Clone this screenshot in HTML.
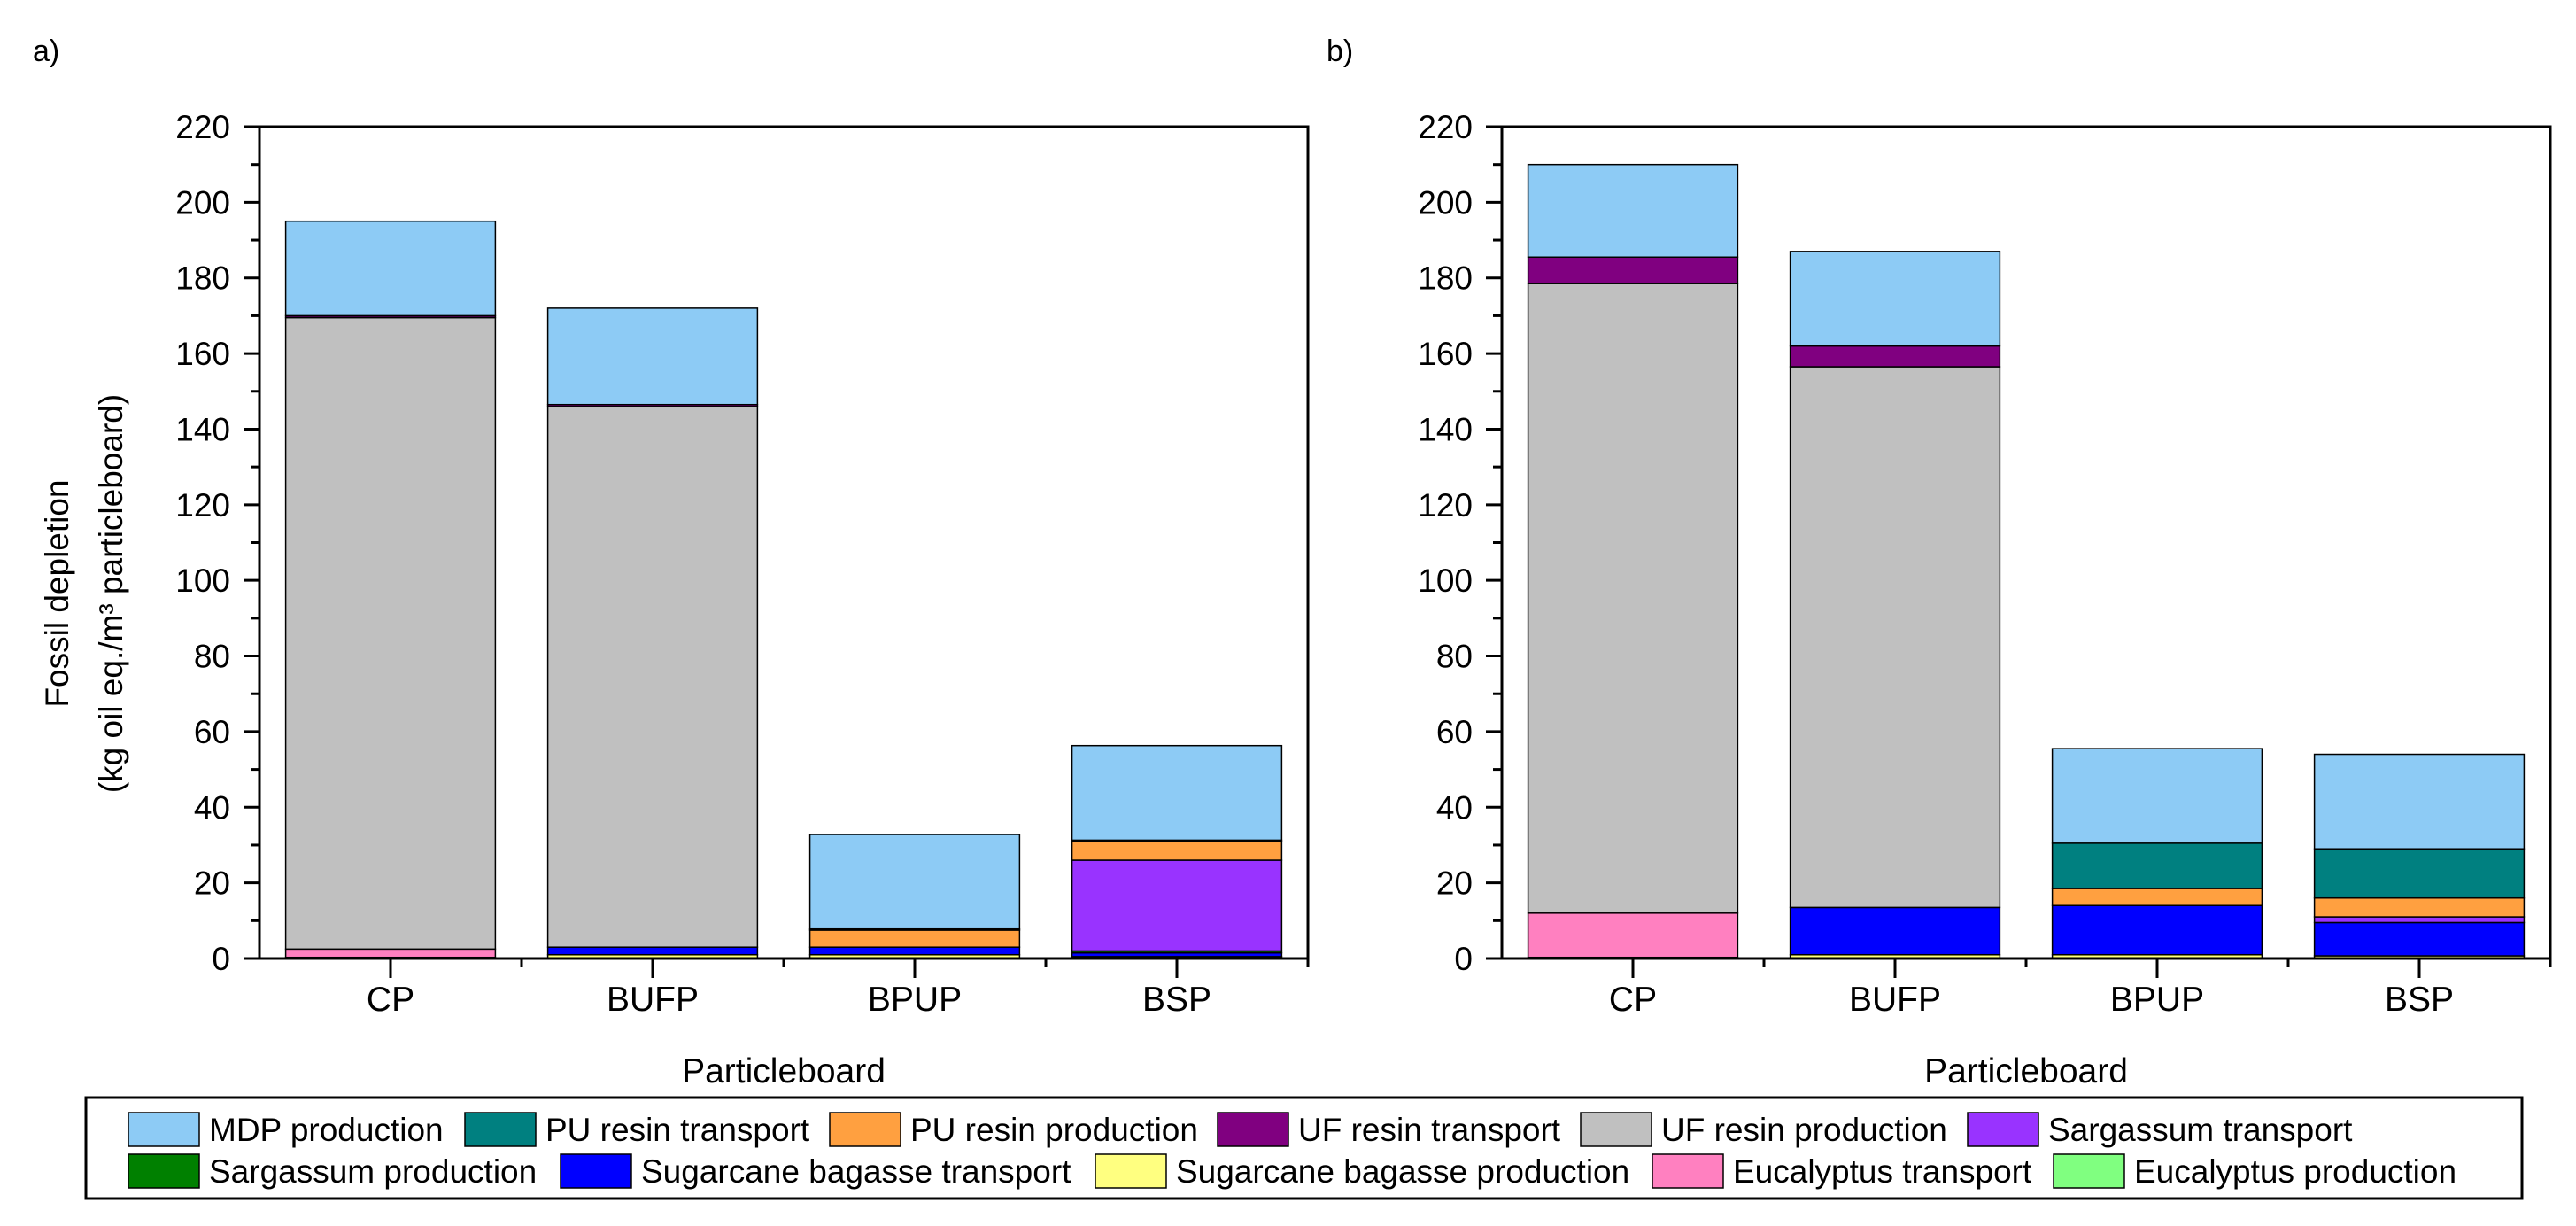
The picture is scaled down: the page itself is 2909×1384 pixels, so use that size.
<!DOCTYPE html>
<html><head><meta charset="utf-8"><style>
html,body{margin:0;padding:0;background:#fff}
svg{display:block;font-family:"Liberation Sans",Arial,sans-serif}
</style></head><body>
<svg id="chart" width="2909" height="1384" viewBox="0 0 2909 1384" xmlns="http://www.w3.org/2000/svg">
<rect width="2909" height="1384" fill="#fff"/>
<text x="37" y="69" font-size="34">a)</text>
<text x="1498" y="69" font-size="34">b)</text>
<g transform="translate(65,670) rotate(-90)">
<text x="0" y="12" font-size="37" text-anchor="middle">Fossil depletion</text>
<text x="0" y="73" font-size="37" text-anchor="middle">(kg oil eq./m³ particleboard)</text>
</g>
<g id="plots"></g>
<rect x="97" y="1239" width="2751" height="114" fill="#fff" stroke="#000" stroke-width="3"/>
<g id="legend"></g>
</svg>
<script>
const categories = ["CP","BUFP","BPUP","BSP"];
const seriesNames = ["Eucalyptus production","Eucalyptus transport","Sugarcane bagasse production","Sugarcane bagasse transport","Sargassum production","Sargassum transport","UF resin production","UF resin transport","PU resin production","PU resin transport","MDP production"];
const seriesColors = ["#80FF80","#FF80C0","#FFFF80","#0000FF","#008000","#9933FF","#C0C0C0","#800080","#FFA040","#008080","#8DCBF5"];
const yTicks = [0,20,40,60,80,100,120,140,160,180,200,220];
// panel a values per series (CP, BUFP, BPUP, BSP)
const a_eucProd  = [0.3,0,0,0];
const a_eucTrans = [2.2,0,0,0];
const a_sugProd  = [0,1,1,0.5];
const a_sugTrans = [0,2,2,1];
const a_sarProd  = [0,0,0,0.5];
const a_sarTrans = [0,0,0,24];
const a_ufProd   = [167,143,0,0];
const a_ufTrans  = [0.5,0.5,0,0];
const a_puProd   = [0,0,4.5,5];
const a_puTrans  = [0,0,0.3,0.3];
const a_mdp      = [25,25.5,25,25];
// panel b values
const b_eucProd  = [0.3,0,0,0];
const b_eucTrans = [11.7,0,0,0];
const b_sugProd  = [0,1,1,0.7];
const b_sugTrans = [0,12.5,13,8.8];
const b_sarProd  = [0,0,0,0];
const b_sarTrans = [0,0,0,1.5];
const b_ufProd   = [166.5,143,0,0];
const b_ufTrans  = [7,5.5,0,0];
const b_puProd   = [0,0,4.5,5];
const b_puTrans  = [0,0,12,13];
const b_mdp      = [24.5,25,25,25];
const panelA = [a_eucProd,a_eucTrans,a_sugProd,a_sugTrans,a_sarProd,a_sarTrans,a_ufProd,a_ufTrans,a_puProd,a_puTrans,a_mdp];
const panelB = [b_eucProd,b_eucTrans,b_sugProd,b_sugTrans,b_sarProd,b_sarTrans,b_ufProd,b_ufTrans,b_puProd,b_puTrans,b_mdp];

const NS="http://www.w3.org/2000/svg";
function mk(tag,attrs,parent){const e=document.createElementNS(NS,tag);for(const k in attrs)e.setAttribute(k,attrs[k]);parent.appendChild(e);return e;}
const plots=document.getElementById('plots');
const y0=1082, y1=143, yMax=220;
function yScale(v){return y0-(v/yMax)*(y0-y1);}
function drawPanel(left,right,data,tag){
  const g=mk('g',{},plots);
  
  
  const step=(right-left)/categories.length;
  const xC=i=>left+step*(i+0.5);
  yTicks.forEach(t=>{
    const y=yScale(t);
    const tl=mk('line',{x1:left-18,x2:left,y1:y,y2:y,stroke:'#000','stroke-width':3},g);
    
    
    const tx=mk('text',{x:left-33,y:y+13,'font-size':37,'text-anchor':'end'},g);
    tx.textContent=t;
    
    
    if(t<yMax){const ym=yScale(t+10);
      const ml=mk('line',{x1:left-10,x2:left,y1:ym,y2:ym,stroke:'#000','stroke-width':3},g);
      
      }
  });
  categories.forEach((c,i)=>{
    const bw=step*0.8, bx=xC(i)-bw/2;
    let acc=0;
    data.forEach((arr,s)=>{
      const v=arr[i]; if(v<=0) return;
      const r=mk('rect',{x:bx,y:yScale(acc+v),width:bw,height:yScale(acc)-yScale(acc+v),fill:seriesColors[s],stroke:'#000','stroke-width':1.5},g);
      
      
      acc+=v;
    });
    const ct=mk('line',{x1:xC(i),x2:xC(i),y1:y0,y2:y0+22,stroke:'#000','stroke-width':3},g);
    
    
    const bt=mk('line',{x1:left+step*(i+1),x2:left+step*(i+1),y1:y0,y2:y0+10,stroke:'#000','stroke-width':3},g);
    
    
    const lt=mk('text',{x:xC(i),y:1141,'font-size':39,'text-anchor':'middle'},g);
    lt.textContent=c;
    
    
  });
  const fr=mk('rect',{x:left,y:y1,width:right-left,height:y0-y1,fill:'none',stroke:'#000','stroke-width':3},g);
  
  
  const xt=mk('text',{x:(left+right)/2,y:1222,'font-size':39,'text-anchor':'middle'},g);
  xt.textContent='Particleboard';
  
  
}
drawPanel(293,1477,panelA,'a');
drawPanel(1696,2880,panelB,'b');

const lg=document.getElementById('legend');
const legendOrder=[10,9,8,7,6,5,4,3,2,1,0];
const rowX=[[145,525,937,1375,1785,2222],[145,633,1237,1866,2319]];
let k=0;
rowX.forEach((xs,row)=>{
  const cy=row===0?1275:1322;
  xs.forEach(x=>{
    const s=legendOrder[k++];
    const r=mk('rect',{x:x,y:cy-19,width:80,height:38,fill:seriesColors[s],stroke:'#000','stroke-width':1.5},lg);
    
    
    const t=mk('text',{x:x+91,y:cy+13,'font-size':37},lg);
    t.textContent=seriesNames[s];
    
    
  });
});
</script>
</body></html>
